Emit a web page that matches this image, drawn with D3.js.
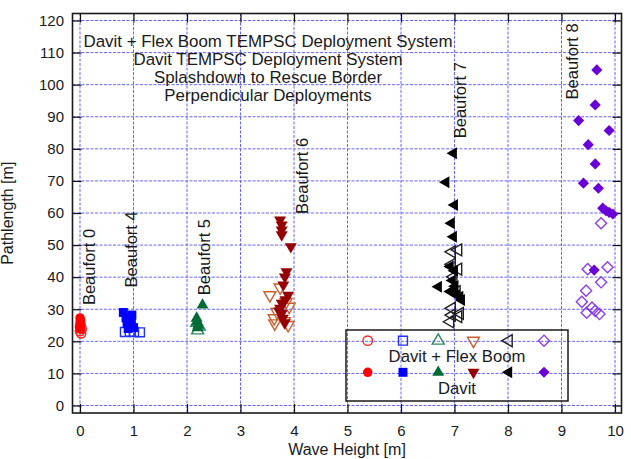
<!DOCTYPE html>
<html><head><meta charset="utf-8">
<script src="https://cdn.jsdelivr.net/npm/d3@7"></script>
<style>
html,body{margin:0;padding:0;background:#fff;}
svg{display:block;font-family:"Liberation Sans",Arial,Helvetica,sans-serif;}
</style></head>
<body>
<svg id="chart" width="631" height="459"></svg>
<script>
// ---- data ----
const xTicks = [0,1,2,3,4,5,6,7,8,9,10];
const yTicks = [0,10,20,30,40,50,60,70,80,90,100,110,120];

const davitB0 = [[0.0,27.3],[0.01,26.6],[0.0,25.9],[0.02,25.2],[0.0,24.5],[0.01,23.8]];
const flexB0  = [[0.02,22.5],[0.0,23.2],[0.03,23.9],[0.0,24.6]];
const davitB4 = [[0.81,29.0],[0.97,28.2],[0.86,27.3],[0.96,26.5],[0.88,25.6],[0.95,24.8],[0.90,24.0],[1.0,24.3]];
const flexB4  = [[0.84,22.9],[0.93,23.0],[1.01,22.9],[1.12,22.8]];
const davitB5 = [[2.29,31.3],[2.18,27.2],[2.19,26.0],[2.21,25.0],[2.20,24.2]];
const flexB5  = [[2.20,23.4],[2.23,24.6],[2.18,25.8]];
const davitB6 = [[3.74,57.8],[3.77,56.3],[3.77,54.7],[3.77,53.2],[3.94,49.5],[3.86,41.7],[3.83,40.1],[3.80,37.6],[3.89,34.4],[3.84,33.0],[3.77,31.9],[3.74,30.3],[3.72,29.5],[3.77,28.7],[3.79,27.2],[3.83,25.8]];
const flexB6  = [[3.55,34.4],[3.74,36.8],[3.85,32.2],[3.91,30.8],[3.68,29.2],[3.63,27.2],[3.82,26.3],[3.64,25.6],[3.89,25.1]];
const davitB7 = [[6.98,78.6],[6.84,69.6],[7.00,62.5],[6.94,56.8],[6.98,52.6],[6.92,43.3],[7.00,42.0],[6.96,39.0],[7.01,37.2],[6.70,37.0],[7.00,36.2],[6.92,35.5],[7.04,34.4],[7.10,33.9],[7.13,32.9]];
const flexB7  = [[6.95,47.9],[7.07,48.5],[6.95,44.0],[7.07,42.5],[6.98,40.1],[7.04,35.5],[6.95,30.3],[7.10,28.7],[6.95,28.2],[7.07,27.7],[6.92,26.1]];
const davitB8 = [[9.66,104.6],[9.63,93.7],[9.32,88.8],[9.89,85.7],[9.50,81.3],[9.63,75.3],[9.41,69.3],[9.69,67.7],[9.77,61.5],[9.83,60.7],[9.89,60.2],[9.96,59.7],[9.61,42.2]];
const flexB8  = [[9.74,56.8],[9.49,42.5],[9.86,43.1],[9.74,38.4],[9.46,35.8],[9.38,32.3],[9.57,30.5],[9.63,29.5],[9.47,28.9],[9.71,28.5]];

const beaufortNames = ["Beaufort 0","Beaufort 4","Beaufort 5","Beaufort 6","Beaufort 7","Beaufort 8"];
const beaufortLabelX = [0.28,1.07,2.43,4.26,7.21,9.31];
const beaufortLabelY = [31.3,36.8,34.4,59.7,83.3,95.4];

const titleLines = ["Davit + Flex Boom TEMPSC Deployment System","Davit TEMPSC Deployment System","Splashdown to Rescue Border","Perpendicular Deployments"];
const legendLabels = ["Davit + Flex Boom","Davit"];

// ---- styles ----
const shapes = ["circle","square","up","down","left","diamond"];
const fillColors = ["#ff0000","#0000ff","#006b35","#960000","#000000","#6a00d8"];
const openColors = ["#ff2020","#2030ff","#2a8a60","#c8602e","#202020","#8a40e6"];

const davitSets = [davitB0,davitB4,davitB5,davitB6,davitB7,davitB8];
const flexSets  = [flexB0,flexB4,flexB5,flexB6,flexB7,flexB8];

const svg = d3.select("#chart");
const x = d3.scaleLinear().domain([0,10]).range([80,615]);
const y = d3.scaleLinear().domain([0,120]).range([405.5,20.5]);
const fL = 72.5, fR = 621.5, fT = 13.5, fB = 413;

// gridlines
const grid = svg.append("g");
grid.selectAll("line.gx").data(xTicks).join("line")
  .attr("x1",d=>x(d)).attr("x2",d=>x(d)).attr("y1",fT).attr("y2",fB)
  .attr("stroke","#6464ff").attr("stroke-width",1).attr("stroke-dasharray","3,1.5");
grid.selectAll("line.gy").data(yTicks).join("line")
  .attr("y1",d=>y(d)).attr("y2",d=>y(d)).attr("x1",fL).attr("x2",fR)
  .attr("stroke","#6464ff").attr("stroke-width",1).attr("stroke-dasharray","3,1.5");

// axes
const fontSize = 15;
const axL = svg.append("g").attr("transform",`translate(${fL},0)`)
  .call(d3.axisLeft(y).tickValues(yTicks).tickSize(-9).tickPadding(8.5));
const axB = svg.append("g").attr("transform",`translate(0,${fB})`)
  .call(d3.axisBottom(x).tickValues(xTicks).tickSize(-9).tickPadding(12.3));
const axR = svg.append("g").attr("transform",`translate(${fR},0)`)
  .call(d3.axisRight(y).tickValues(yTicks).tickSize(-9).tickFormat(""));
const axT = svg.append("g").attr("transform",`translate(0,${fT})`)
  .call(d3.axisTop(x).tickValues(xTicks).tickSize(-9).tickFormat(""));
[axL,axB,axR,axT].forEach(a=>{
  a.select(".domain").remove();
  a.selectAll(".tick line").attr("stroke","#111").attr("stroke-width",1.2);
  a.selectAll("text").attr("font-size",fontSize).attr("fill","#1a1a1a")
    .attr("font-family","'Liberation Sans',Arial,Helvetica,sans-serif");
});

// frame
svg.append("rect").attr("x",fL).attr("y",fT).attr("width",fR-fL).attr("height",fB-fT)
  .attr("fill","none").attr("stroke","#1a1a1a").attr("stroke-width",1.6);

// axis titles
svg.append("text").attr("transform",`translate(13,${(fT+fB)/2}) rotate(-90)`)
  .attr("text-anchor","middle").attr("font-size",16).attr("fill","#1a1a1a").text("Pathlength [m]");
svg.append("text").attr("x",(fL+fR)/2).attr("y",454.5).attr("text-anchor","middle")
  .attr("font-size",16).attr("fill","#1a1a1a").text("Wave Height [m]");

// symbols
function symPath(shape){
  if(shape==="circle") return d3.symbol(d3.symbolCircle,70)();
  if(shape==="square") return d3.symbol(d3.symbolSquare,80)();
  if(shape==="diamond") return d3.symbol(d3.symbolSquare,62)();
  return d3.symbol(d3.symbolTriangle,62)();
}
function symRot(shape){
  return shape==="down"?180:shape==="left"?-90:shape==="diamond"?45:0;
}
function drawMarkers(g, pts, i, filled){
  const shape = shapes[i];
  g.selectAll(null).data(pts).join("path")
    .attr("d",symPath(shape))
    .attr("transform",d=>`translate(${x(d[0])},${y(d[1])}) rotate(${symRot(shape)})`)
    .attr("fill",filled?fillColors[i]:"none")
    .attr("stroke",filled?"none":openColors[i])
    .attr("stroke-width",filled?0:1.4);
}
const markG = svg.append("g");
flexSets.forEach((pts,i)=>drawMarkers(markG.append("g"),pts,i,false));
davitSets.forEach((pts,i)=>drawMarkers(markG.append("g"),pts,i,true));

// Beaufort labels
svg.append("g").selectAll("text").data(beaufortNames).join("text")
  .attr("transform",(d,i)=>`translate(${x(beaufortLabelX[i])},${y(beaufortLabelY[i])}) rotate(-90)`)
  .attr("font-size",16.5).attr("fill","#1a1a1a").text(d=>d);

// title block
svg.append("g").selectAll("text").data(titleLines).join("text")
  .attr("x",268).attr("y",(d,i)=>46.5+i*18.3).attr("text-anchor","middle")
  .attr("font-size",16.9).attr("fill","#1a1a1a").text(d=>d);

// legend
const lg = svg.append("g");
lg.append("rect").attr("x",346).attr("y",330).attr("width",222).attr("height",71)
  .attr("fill","none").attr("stroke","#1a1a1a").attr("stroke-width",1.5);
const legX = d3.scalePoint().domain(d3.range(6)).range([367.7,544]);
const legRows = [340.7,372.3];
[false,true].forEach((filled,r)=>{
  lg.append("g").selectAll("path").data(d3.range(6)).join("path")
    .attr("d",i=>symPath(shapes[i]))
    .attr("transform",i=>`translate(${legX(i)},${legRows[r]}) rotate(${symRot(shapes[i])})`)
    .attr("fill",i=>filled?fillColors[i]:"none")
    .attr("stroke",i=>filled?"none":openColors[i])
    .attr("stroke-width",filled?0:1.4);
});
lg.selectAll("text").data(legendLabels).join("text")
  .attr("x",457).attr("y",(d,i)=>362+i*31.5).attr("text-anchor","middle")
  .attr("font-size",16.7).attr("fill","#1a1a1a").text(d=>d);
</script>
</body></html>
